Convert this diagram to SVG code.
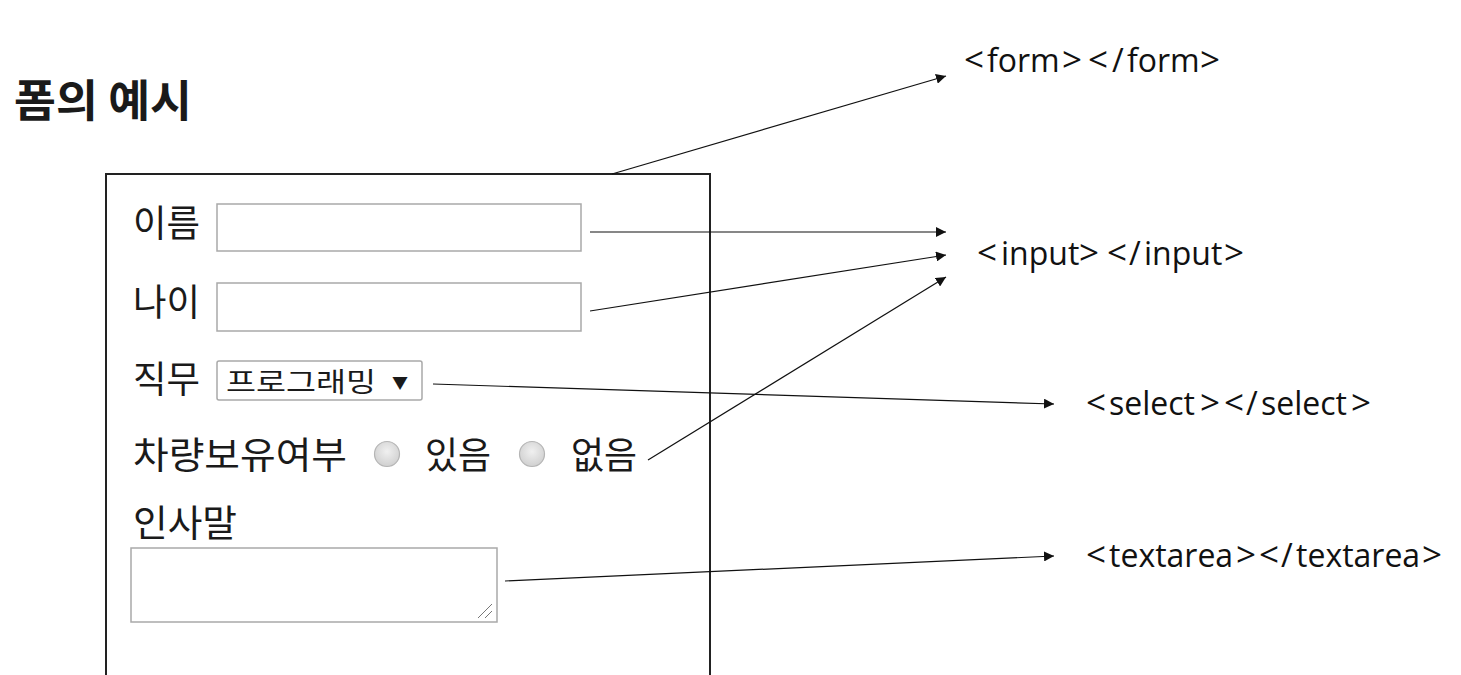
<svg xmlns="http://www.w3.org/2000/svg" width="1461" height="675" viewBox="0 0 1461 675">
<style>
.kr{font-family:"Noto Sans CJK KR","Noto Sans",sans-serif;fill:#1a1a1a}
.row{font-size:37px}
.lbl{font-family:"Open Sans","Noto Sans","Noto Sans CJK KR",sans-serif;font-size:32px;fill:#111}
.b{font-size:35px}
.fld{fill:#fff;stroke:#a9a9a9;stroke-width:1.5}
.con{stroke:#111;stroke-width:1.2;fill:none;marker-end:url(#ah)}
</style>
<defs>
<marker id="ah" viewBox="0 0 10 10" refX="10" refY="5" markerWidth="10" markerHeight="10" markerUnits="userSpaceOnUse" orient="auto">
<path d="M0,0 L10,5 L0,10 z" fill="#111"/>
</marker>
<radialGradient id="rg" cx="0.5" cy="0.4" r="0.6">
<stop offset="0" stop-color="#f0f0f0"/><stop offset="1" stop-color="#d0d0d0"/>
</radialGradient>
</defs>
<rect width="1461" height="675" fill="#fff"/>
<g id="title"><text class="kr" x="14" y="117" font-size="44" font-weight="bold" fill="#111" textLength="178" lengthAdjust="spacingAndGlyphs">폼의 예시</text></g>
<g id="form">
<path d="M106,680 V174 H710 V680" fill="none" stroke="#222" stroke-width="2"/>
</g>
<g id="name-row">
<text class="kr row" x="133" y="237" textLength="67" lengthAdjust="spacingAndGlyphs">이름</text>
<rect class="fld" x="217" y="204" width="364" height="47"/>
</g>
<g id="age-row">
<text class="kr row" x="133" y="316" textLength="67" lengthAdjust="spacingAndGlyphs">나이</text>
<rect class="fld" x="217" y="283" width="364" height="48"/>
</g>
<g id="job-row">
<text class="kr row" x="133" y="393" textLength="67" lengthAdjust="spacingAndGlyphs">직무</text>
<rect class="fld" x="217" y="361" width="205" height="39" rx="2"/>
<text class="kr" x="226" y="392" font-size="27" textLength="150" lengthAdjust="spacingAndGlyphs">프로그래밍</text>
<text class="kr" x="392" y="389" font-size="16">▼</text>
</g>
<g id="car-row">
<text class="kr row" x="133" y="469" textLength="214" lengthAdjust="spacingAndGlyphs">차량보유여부</text>
<circle cx="387" cy="454" r="12.5" fill="url(#rg)" stroke="#b5b5b5" stroke-width="1.2"/>
<text class="kr row" x="425" y="469" textLength="66" lengthAdjust="spacingAndGlyphs">있음</text>
<circle cx="532" cy="454" r="12.5" fill="url(#rg)" stroke="#b5b5b5" stroke-width="1.2"/>
<text class="kr row" x="571" y="469" textLength="66" lengthAdjust="spacingAndGlyphs">없음</text>
</g>
<g id="greeting-row">
<text class="kr row" x="133" y="537" textLength="104" lengthAdjust="spacingAndGlyphs">인사말</text>
<rect class="fld" x="131" y="548" width="366" height="74"/>
<path d="M478,618 L492,604 M485,618 L492,611" stroke="#777" stroke-width="1"/>
</g>
<g id="tag-form"><text class="lbl" y="72"><tspan class="b" x="964">&lt;</tspan><tspan x="987">form</tspan><tspan class="b" x="1062">&gt;</tspan><tspan class="b" x="1088">&lt;</tspan><tspan x="1112">/</tspan><tspan x="1127">form</tspan><tspan class="b" x="1200">&gt;</tspan></text></g>
<g id="tag-input"><text class="lbl" y="265"><tspan class="b" x="977">&lt;</tspan><tspan x="1001">input</tspan><tspan class="b" x="1079">&gt;</tspan><tspan class="b" x="1107">&lt;</tspan><tspan x="1129">/</tspan><tspan x="1144">input</tspan><tspan class="b" x="1224">&gt;</tspan></text></g>
<g id="tag-select"><text class="lbl" y="415"><tspan class="b" x="1086">&lt;</tspan><tspan x="1109">select</tspan><tspan class="b" x="1200">&gt;</tspan><tspan class="b" x="1224">&lt;</tspan><tspan x="1246">/</tspan><tspan x="1261">select</tspan><tspan class="b" x="1351">&gt;</tspan></text></g>
<g id="tag-textarea"><text class="lbl" y="567"><tspan class="b" x="1086">&lt;</tspan><tspan x="1109">textarea</tspan><tspan class="b" x="1236">&gt;</tspan><tspan class="b" x="1259">&lt;</tspan><tspan x="1281">/</tspan><tspan x="1296">textarea</tspan><tspan class="b" x="1422">&gt;</tspan></text></g>
<g id="connectors">
<line class="con" x1="612" y1="174" x2="946" y2="76"/>
<line class="con" x1="590" y1="232" x2="946" y2="232"/>
<line class="con" x1="590" y1="311" x2="946" y2="255"/>
<line class="con" x1="648" y1="460" x2="946" y2="277"/>
<line class="con" x1="433" y1="384" x2="1054" y2="404"/>
<line class="con" x1="505" y1="581" x2="1054" y2="556"/>
</g>
</svg>
